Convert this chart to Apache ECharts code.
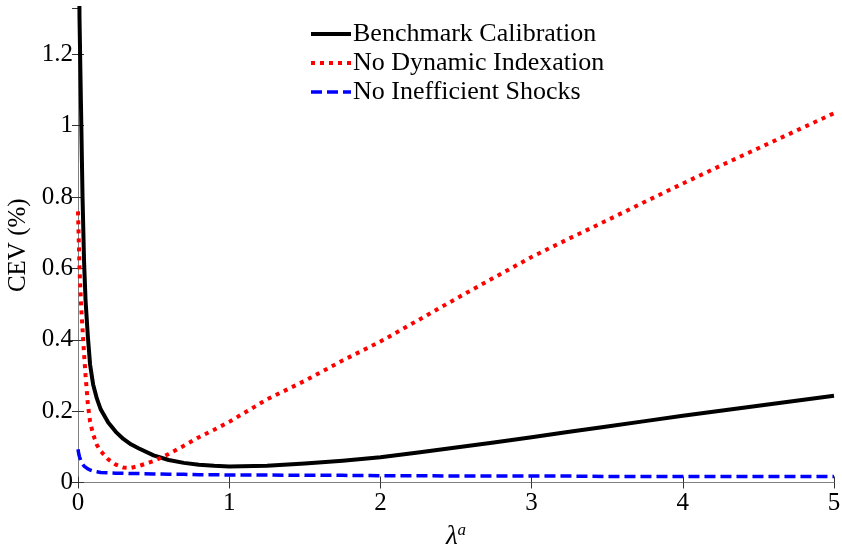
<!DOCTYPE html>
<html>
<head>
<meta charset="utf-8">
<script src="https://cdn.jsdelivr.net/npm/echarts@6/dist/echarts.min.js"></script>
<style>
html,body{margin:0;padding:0;background:#fff;}
#chart{width:842px;height:545px;}
</style>
</head>
<body>
<div id="chart"></div>
<script>
var lambda = [0, 0.005, 0.01, 0.02, 0.03, 0.04, 0.05, 0.065, 0.08, 0.1, 0.125, 0.15, 0.2, 0.25, 0.3, 0.35, 0.4, 0.5, 0.6, 0.7, 0.8, 0.9, 1.0, 1.25, 1.5, 1.75, 2.0, 2.25, 2.5, 2.75, 3.0, 3.25, 3.5, 3.75, 4.0, 4.25, 4.5, 4.75, 5.0];
var benchmark = [2.2, 1.6, 1.3, 1.05, 0.8, 0.62, 0.51, 0.41, 0.33, 0.275, 0.235, 0.205, 0.168, 0.142, 0.122, 0.107, 0.096, 0.076, 0.063, 0.055, 0.05, 0.047, 0.045, 0.047, 0.053, 0.061, 0.071, 0.084, 0.098, 0.112, 0.127, 0.142, 0.157, 0.172, 0.187, 0.201, 0.215, 0.229, 0.243];
var noIndexation = [0.76, 0.68, 0.6, 0.5, 0.43, 0.36, 0.3, 0.22, 0.17, 0.135, 0.105, 0.088, 0.065, 0.05, 0.042, 0.041, 0.046, 0.06, 0.08, 0.103, 0.127, 0.148, 0.17, 0.233, 0.285, 0.342, 0.395, 0.455, 0.515, 0.574, 0.632, 0.684, 0.735, 0.787, 0.838, 0.888, 0.937, 0.986, 1.035];
var noShocks = [0.093, 0.08, 0.072, 0.06, 0.052, 0.046, 0.042, 0.038, 0.035, 0.032, 0.03, 0.028, 0.027, 0.026, 0.026, 0.025, 0.025, 0.024, 0.023, 0.023, 0.022, 0.022, 0.021, 0.021, 0.02, 0.02, 0.019, 0.019, 0.018, 0.018, 0.018, 0.018, 0.017, 0.017, 0.017, 0.017, 0.017, 0.017, 0.017];
var seriesNames = ['Benchmark Calibration', 'No Dynamic Indexation', 'No Inefficient Shocks'];
var xTicks = [0, 1, 2, 3, 4, 5];

function pairs(ys) { return lambda.map(function (x, i) { return [x, ys[i]]; }); }

var font = 'Liberation Serif';
var axisGrey = '#808080';
var chart = echarts.init(document.getElementById('chart'), null, {renderer: 'canvas'});
chart.setOption({
  animation: false,
  backgroundColor: '#fff',
  grid: {left: 78, right: 8, top: 8, bottom: 62.5, containLabel: false, outerBoundsMode: 'none'},
  legend: {
    orient: 'vertical', left: 304, top: 15,
    itemWidth: 40, itemHeight: 14, itemGap: 1,
    itemStyle: {opacity: 0},
    textStyle: {fontFamily: font, fontSize: 26, color: '#000', lineHeight: 28, padding: [0, 0, 0, -3]},
    data: [
      {name: seriesNames[0], lineStyle: {width: 4}},
      {name: seriesNames[1], lineStyle: {width: 4}},
      {name: seriesNames[2], lineStyle: {width: 3.5}}
    ]
  },
  xAxis: [{
    type: 'value', min: 0, max: 5, interval: 1, position: 'bottom',
    axisLine: {lineStyle: {color: axisGrey, width: 1}},
    axisTick: {inside: true, length: 6, lineStyle: {color: '#333'}},
    splitLine: {show: false},
    axisLabel: {fontFamily: font, fontSize: 25, color: '#000', margin: 8, formatter: function (v) { return xTicks.indexOf(v) >= 0 ? String(v) : ''; }},
    name: '{l|λ}{s|a}', nameLocation: 'middle', nameGap: 40,
    nameTextStyle: {rich: {
      l: {fontFamily: font, fontStyle: 'italic', fontSize: 27, color: '#000', lineHeight: 28},
      s: {fontFamily: font, fontStyle: 'italic', fontSize: 17, color: '#000', verticalAlign: 'top', padding: [0, 0, 12, 0]}
    }}
  }, {
    type: 'value', min: 0, max: 5, interval: 1, position: 'top',
    axisLine: {lineStyle: {color: axisGrey, width: 1}},
    axisTick: {inside: true, length: 6, lineStyle: {color: '#333'}},
    axisLabel: {show: false}, splitLine: {show: false}
  }],
  yAxis: [{
    type: 'value', min: 0, max: 1.33, interval: 0.2, position: 'left',
    axisLine: {show: true, lineStyle: {color: axisGrey, width: 1}},
    axisTick: {show: true, inside: true, length: 6, lineStyle: {color: '#333'}},
    splitLine: {show: false},
    axisLabel: {fontFamily: font, fontSize: 25, color: '#000', margin: 5, showMaxLabel: false},
    name: 'CEV (%)', nameLocation: 'middle', nameGap: 44, nameRotate: 90,
    nameTextStyle: {fontFamily: font, fontSize: 25, color: '#000'}
  }, {
    type: 'value', min: 0, max: 1.33, interval: 0.2, position: 'right',
    axisLine: {show: true, lineStyle: {color: axisGrey, width: 1}},
    axisTick: {show: true, inside: true, length: 6, lineStyle: {color: '#333'}},
    axisLabel: {show: false}, splitLine: {show: false}
  }],
  series: [{
    name: seriesNames[0], type: 'line', data: pairs(benchmark), showSymbol: false, symbol: 'none',
    smooth: false, clip: true,
    lineStyle: {color: '#000', width: 4, type: 'solid', join: 'round'}, itemStyle: {color: '#000'}, z: 3
  }, {
    name: seriesNames[1], type: 'line', data: pairs(noIndexation), showSymbol: false, symbol: 'none',
    smooth: false, clip: true,
    lineStyle: {color: '#ff0000', width: 4, type: [4, 5]}, itemStyle: {color: '#ff0000'}, z: 4
  }, {
    name: seriesNames[2], type: 'line', data: pairs(noShocks), showSymbol: false, symbol: 'none',
    smooth: false, clip: true,
    lineStyle: {color: '#0000ff', width: 3.5, type: [11, 5]}, itemStyle: {color: '#0000ff'}, z: 2
  }]
});
</script>
</body>
</html>
